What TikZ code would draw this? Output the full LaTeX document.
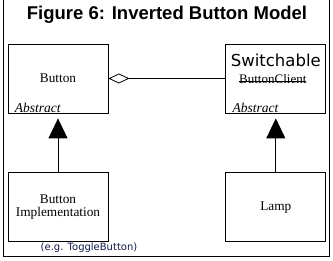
\documentclass[tikz,border=0pt]{standalone}
\usepackage{fontspec}
\setmainfont{Liberation Serif}
\newfontfamily\titlefont{Liberation Sans}
\newfontfamily\notefont{DejaVu Sans}
\usepackage{xcolor}
\usepackage{tikz}
\usetikzlibrary{positioning,arrows.meta}
\definecolor{notecolor}{HTML}{101848}
\newcommand{\strikeout}[1]{\setbox0\hbox{#1}\rlap{\rule[0.3ex]{\wd0}{1.6pt}}\box0}

\begin{document}
\begin{tikzpicture}[
    x=1pt, y=-1pt,
    node distance=59pt and 117pt,
    classbox/.style={draw, line width=0.8pt, minimum width=100pt, minimum height=69pt, inner sep=0pt, align=center, font=\fontsize{13.3}{13.5}\selectfont},
    abstr/.style={anchor=south west, inner sep=1pt, font=\fontsize{13.5}{13.5}\selectfont\itshape},
    inherit/.style={-{Triangle[length=20pt, width=19pt]}, line width=0.8pt, shorten >=5pt},
    aggreg/.style={{Diamond[open, length=21pt, width=10pt]}-, line width=0.8pt}
  ]
    \useasboundingbox (0,0) rectangle (333,261);
    % Frame and title
    \draw[line width=0.8pt] (3,0) -- (3,256) -- (329.5,256) -- (329.5,0);
    \node[font=\titlefont\bfseries\fontsize{18.5}{20}\selectfont] (title) at (167,15) {Figure 6: Inverted Button Model};
    % Top row
    \node[classbox] (button) at (58,78.5) {Button};
    \node[classbox, right=of button] (switchable) {};
    \node[font=\notefont\fontsize{16.5}{17}\selectfont] (swname) at ([yshift=18pt]switchable.center) {Switchable};
    \node[font=\fontsize{13}{13}\selectfont] (client) at ([xshift=-3pt, yshift=-1pt]switchable.center) {\strikeout{ButtonClient}};
    \node[abstr, xshift=6pt] (babs) at (button.south west) {Abstract};
    \node[abstr, xshift=6pt] (sabs) at (switchable.south west) {Abstract};
    % Bottom row
    \node[classbox, below=of button] (impl) {Button\\Implementation};
    \node[classbox, below=of switchable] (lamp) {Lamp};
    \node[font=\notefont\fontsize{10}{10}\selectfont, text=notecolor, anchor=north, inner sep=1pt] (note) at ([xshift=31pt]impl.south) {(e.g. ToggleButton)};
    % Connectors
    \draw[aggreg] (button.east) -- (switchable.west);
    \draw[inherit] (impl.north) -- (button.south);
    \draw[inherit] (lamp.north) -- (switchable.south);
\end{tikzpicture}
\end{document}
